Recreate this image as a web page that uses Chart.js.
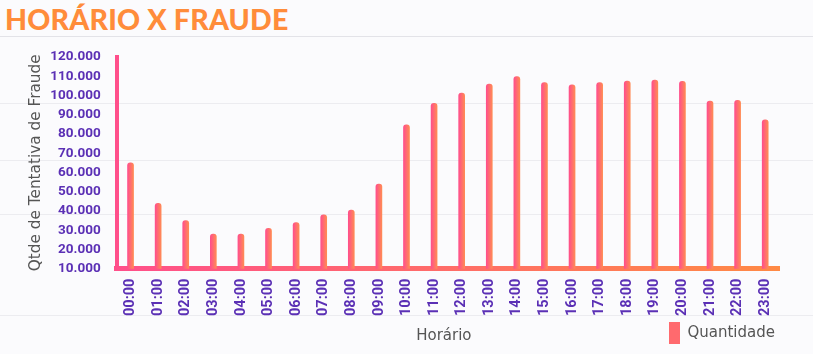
<!DOCTYPE html>
<html lang="pt-BR">
<head>
  <meta charset="UTF-8" />
  <title>Horário x Fraude</title>
  <script src="https://cdn.jsdelivr.net/npm/chart.js"></script>
  <style>
    body { margin: 0; background: #fbfbfd; }
    .wrap {
      position: relative; width: 813px; height: 354px; overflow: hidden;
      /* linhas decorativas do fundo */
      background:
        linear-gradient(#e3e3e8, #e3e3e8) 0 36px / 100% 1px no-repeat,
        linear-gradient(#ececf0, #ececf0) 0 103px / 100% 1px no-repeat,
        linear-gradient(#ececf0, #ececf0) 0 160px / 100% 1px no-repeat,
        linear-gradient(#ececf0, #ececf0) 0 214px / 100% 1px no-repeat,
        linear-gradient(#ececf0, #ececf0) 0 315px / 100% 1px no-repeat,
        #fbfbfd;
    }
    h1 {
      position: absolute; left: 5px; top: 2px; margin: 0;
      font: 900 28.5px Lato, sans-serif; color: #ff8c3a; letter-spacing: 0.2px;
    }
    canvas { position: absolute; left: 0; top: 0; }
  </style>
</head>
<body>
<div class="wrap">
  <h1>HORÁRIO X FRAUDE</h1>
  <canvas id="chart" width="813" height="354"></canvas>
</div>
<script>
  // dados
  const horas = ['00:00','01:00','02:00','03:00','04:00','05:00','06:00','07:00','08:00','09:00','10:00','11:00',
                 '12:00','13:00','14:00','15:00','16:00','17:00','18:00','19:00','20:00','21:00','22:00','23:00'];
  const quantidade = [65000, 44000, 35000, 28000, 28000, 31000, 34000, 38000, 40500, 54000, 84700, 95900,
                      101300, 105900, 109800, 106700, 105600, 106700, 107500, 108000, 107300, 97100, 97500, 87300];
  const yMin = 10000, yMax = 120000, yStep = 10000;

  const roxo = '#5b30b5', cinza = '#555', rosa = '#ff4f8b', laranja = '#ff8a55';
  const canvas = document.getElementById('chart');
  const c = canvas.getContext('2d');

  const eixoX = c.createLinearGradient(113, 0, 780, 0);
  eixoX.addColorStop(0, rosa);
  eixoX.addColorStop(1, '#ff8a45');

  function fmt(v) { return String(v).replace(/\B(?=(\d{3})+(?!\d))/g, '.'); }

  // gradiente por barra (rosa -> laranja)
  function corBarra(ctx) {
    const chart = ctx.chart;
    if (!chart.chartArea || ctx.dataIndex === undefined) return rosa;
    const x = chart.scales.x.getPixelForValue(ctx.dataIndex);
    const g = chart.ctx.createLinearGradient(x - 3, 0, x + 3, 0);
    g.addColorStop(0, rosa);
    g.addColorStop(1, laranja);
    return g;
  }

  // título do eixo X na mesma linha da legenda
  const tituloX = {
    id: 'tituloX',
    afterDraw(chart) {
      const a = chart.chartArea, lg = chart.legend;
      const cx = chart.ctx;
      cx.save();
      cx.font = '15px "DejaVu Sans"';
      cx.fillStyle = cinza;
      cx.textAlign = 'center';
      cx.textBaseline = 'middle';
      cx.fillText('Horário', (a.left + a.right) / 2 - 4, lg.top + lg.height / 2);
      cx.restore();
    }
  };

  new Chart(c, {
    type: 'bar',
    data: {
      labels: horas,
      datasets: [{
        label: 'Quantidade',
        data: quantidade,
        backgroundColor: corBarra,
        barThickness: 6,
        borderRadius: { topLeft: 3, topRight: 3, bottomLeft: 0, bottomRight: 0 },
        borderSkipped: false
      }]
    },
    options: {
      responsive: false,
      animation: false,
      layout: { padding: { top: 57, left: 27, right: 34, bottom: 0 } },
      plugins: {
        tooltip: { enabled: false },
        legend: {
          position: 'bottom',
          align: 'end',
          labels: {
            color: cinza,
            font: { family: 'DejaVu Sans', size: 15 },
            boxWidth: 11, boxHeight: 22,
            useBorderRadius: true, borderRadius: 5,
            padding: 4,
            generateLabels: () => [{
              text: 'Quantidade', fillStyle: '#ff6a6e', strokeStyle: '#ff6a6e', lineWidth: 0,
              datasetIndex: 0, fontColor: cinza
            }]
          }
        }
      },
      scales: {
        x: {
          grid: { display: false },
          border: { color: eixoX, width: 5 },
          ticks: {
            color: roxo, minRotation: 90, maxRotation: 90, padding: 2,
            font: { family: 'Roboto', weight: 'bold', size: 14.5 }
          }
        },
        y: {
          min: yMin, max: yMax,
          grid: { display: false },
          border: { color: rosa, width: 4 },
          title: {
            display: true, text: 'Qtde de Tentativa de Fraude', color: cinza,
            font: { family: 'DejaVu Sans', size: 15.3 }, padding: { top: 0, bottom: -3 }
          },
          ticks: {
            stepSize: yStep, color: roxo, padding: 8,
            font: { family: 'Roboto', weight: 'bold', size: 13.5 },
            callback: v => fmt(v)
          }
        }
      }
    },
    plugins: [tituloX]
  });
</script>
</body>
</html>
